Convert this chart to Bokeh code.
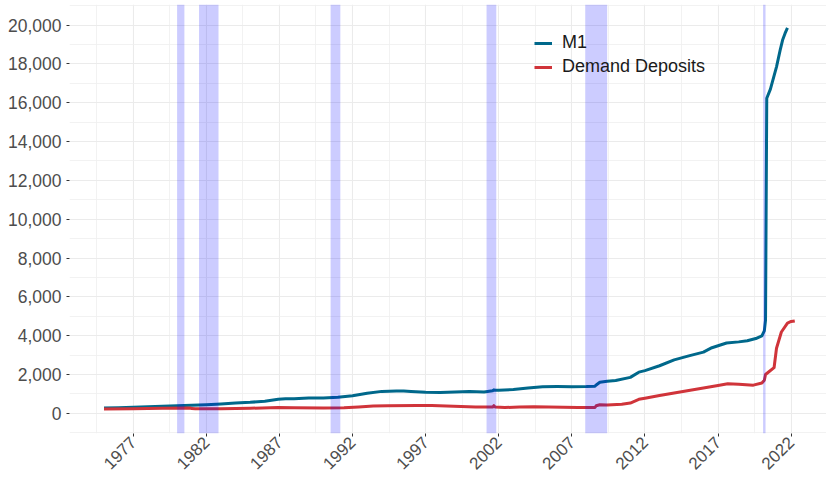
from math import pi
from bokeh.plotting import figure
from bokeh.models import (Range1d, FixedTicker, NumeralTickFormatter, Legend,
                          LegendItem, ColumnDataSource)
from bokeh.embed import file_html
from bokeh.resources import INLINE

# ---------------- data (billions of dollars) ----------------
m1_dates = ["1975-01", "1976-01", "1977-01", "1978-01", "1979-01", "1980-01", "1981-01",
            "1982-01", "1983-01", "1984-01", "1985-01", "1986-01", "1986-12", "1987-06",
            "1988-01", "1989-01", "1990-01", "1991-01", "1992-01", "1993-01", "1994-01",
            "1995-01", "1995-07", "1996-01", "1997-01", "1998-01", "1999-01", "2000-01",
            "2001-01", "2001-08", "2001-09", "2001-10", "2002-01", "2003-01", "2004-01",
            "2005-01", "2006-01", "2007-01", "2008-01", "2008-08", "2008-09", "2008-12",
            "2009-06", "2010-01", "2011-01", "2011-08", "2012-01", "2013-01", "2014-01",
            "2015-01", "2016-01", "2016-08", "2017-08", "2018-06", "2019-01", "2019-08",
            "2020-01", "2020-03", "2020-04", "2020-05", "2020-08", "2021-01", "2021-04",
            "2021-06", "2021-08", "2021-10"]
m1_values = [274, 290, 306, 333, 360, 386, 415,
             445, 480, 527, 565, 626, 725, 750,
             755, 785, 795, 825, 900, 1030, 1130,
             1150, 1147, 1120, 1080, 1075, 1095, 1120,
             1095, 1160, 1210, 1185, 1190, 1225, 1305,
             1365, 1375, 1370, 1375, 1400, 1460, 1600,
             1650, 1690, 1850, 2120, 2200, 2450, 2750,
             2960, 3150, 3380, 3620, 3680, 3740, 3850,
             3990, 4250, 4800, 16230, 16700, 17850, 18710,
             19230, 19570, 19850]

dd_dates = ["1975-01", "1977-01", "1979-01", "1980-12", "1981-01", "1981-04", "1983-01",
            "1985-01", "1986-12", "1988-01", "1990-01", "1991-06", "1992-06", "1993-06",
            "1994-06", "1996-06", "1997-06", "1998-06", "1999-06", "2000-06", "2001-08",
            "2001-09", "2001-10", "2002-06", "2003-06", "2004-06", "2005-06", "2006-06",
            "2007-06", "2008-08", "2008-09", "2008-12", "2009-06", "2010-06", "2011-01",
            "2011-08", "2012-01", "2013-01", "2014-01", "2015-01", "2016-01", "2017-01",
            "2017-09", "2018-06", "2019-06", "2020-01", "2020-03", "2020-04", "2020-06",
            "2020-11", "2021-01", "2021-05", "2021-10", "2022-01", "2022-04"]
dd_values = [222, 236, 258, 268, 245, 232, 238,
             258, 305, 292, 280, 283, 330, 375,
             390, 405, 398, 380, 355, 330, 320,
             395, 325, 300, 320, 335, 330, 310,
             300, 300, 390, 440, 425, 470, 530,
             720, 780, 920, 1050, 1180, 1300, 1430,
             1520, 1500, 1450, 1560, 1700, 2000, 2100,
             2350, 3350, 4190, 4650, 4730, 4760]

rec_start = ["1980-01", "1981-07", "1990-07", "2001-03", "2007-12", "2020-02"]
rec_end = ["1980-07", "1982-11", "1991-03", "2001-11", "2009-06", "2020-04"]

x_ticks = [1977, 1982, 1987, 1992, 1997, 2002, 2007, 2012, 2017, 2022]
x_minor = [1974.5, 1979.5, 1984.5, 1989.5, 1994.5, 1999.5, 2004.5, 2009.5, 2014.5, 2019.5]
y_ticks = [0, 2000, 4000, 6000, 8000, 10000, 12000, 14000, 16000, 18000, 20000]
y_minor = [-1000, 1000, 3000, 5000, 7000, 9000, 11000, 13000, 15000, 17000, 19000, 21000]

series_names = ["M1", "Demand Deposits"]
series_colors = ["#00688B", "#D0343A"]


def to_year(s):
    y, m = s.split("-")
    return int(y) + (int(m) - 1) / 12.0


x_lo, x_hi = 1972.64, 2024.42
y_lo, y_hi = -1040, 21060

FONT = "Liberation Sans"

p = figure(width=826, height=477, output_backend="svg", toolbar_location=None,
           x_range=Range1d(x_lo, x_hi), y_range=Range1d(y_lo, y_hi),
           min_border_left=69, min_border_right=0, min_border_top=4, min_border_bottom=44)
p.outline_line_color = None
p.background_fill_color = "white"
p.border_fill_color = "white"

m1_src = ColumnDataSource(dict(x=[to_year(d) for d in m1_dates], y=m1_values))
dd_src = ColumnDataSource(dict(x=[to_year(d) for d in dd_dates], y=dd_values))

r1 = p.line("x", "y", source=m1_src, line_width=3, line_color=series_colors[0],
            line_join="round")
r2 = p.line("x", "y", source=dd_src, line_width=3, line_color=series_colors[1],
            line_join="round")

rec_src = ColumnDataSource(dict(left=[to_year(d) for d in rec_start],
                                right=[to_year(d) for d in rec_end],
                                bottom=[y_lo] * len(rec_start),
                                top=[y_hi] * len(rec_start)))
p.quad(left="left", right="right", bottom="bottom", top="top", source=rec_src,
       fill_color="#0000FF", fill_alpha=0.2, line_color=None)

# axes
p.xaxis.ticker = FixedTicker(ticks=x_ticks, minor_ticks=x_minor)
p.yaxis.ticker = FixedTicker(ticks=y_ticks, minor_ticks=y_minor)
p.yaxis.formatter = NumeralTickFormatter(format="0,0")
p.xaxis.major_label_orientation = pi / 4
for ax in (p.xaxis, p.yaxis):
    ax.axis_line_color = None
    ax.major_tick_line_color = "#333333"
    ax.major_tick_line_width = 1
    ax.major_tick_out = 3
    ax.major_tick_in = 0
    ax.minor_tick_line_color = None
    ax.major_label_text_font = FONT
    ax.major_label_text_color = "#4D4D4D"
    ax.axis_label_standoff = 0
    ax.major_label_text_line_height = 1.0
p.yaxis.major_label_text_font_size = "17.5px"
p.yaxis.major_label_standoff = 4
p.xaxis.major_label_text_font_size = "17px"
p.xaxis.major_label_standoff = 2

for g in (p.xgrid, p.ygrid):
    g.grid_line_color = "#EBEBEB"
    g.grid_line_width = 1.1
    g.minor_grid_line_color = "#EFEFEF"
    g.minor_grid_line_width = 0.8

legend = Legend(items=[LegendItem(label=series_names[0], renderers=[r1]),
                       LegendItem(label=series_names[1], renderers=[r2])],
                location=(465, 356), orientation="vertical",
                background_fill_alpha=0, border_line_alpha=0,
                padding=0, margin=0, spacing=3,
                glyph_width=18, glyph_height=20, label_height=20, label_standoff=10,
                label_text_font=FONT, label_text_font_size="18px",
                label_text_color="#1A1A1A")
p.add_layout(legend)

open("out.html", "w").write(file_html(p, INLINE))
